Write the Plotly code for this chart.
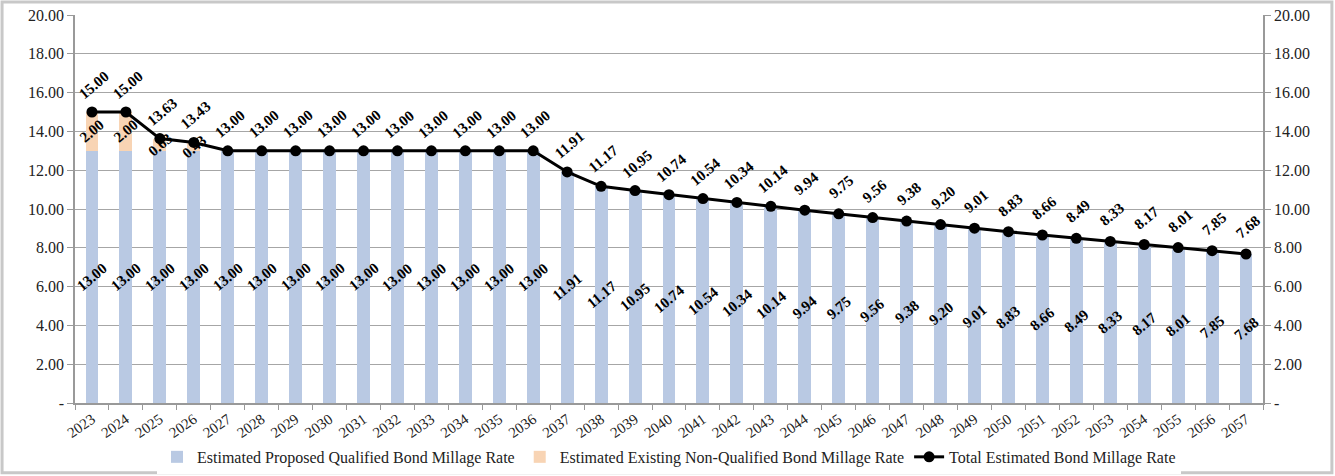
import plotly.graph_objects as go

years = [str(y) for y in range(2023, 2058)]
qualified = [13.00]*14 + [11.91, 11.17, 10.95, 10.74, 10.54, 10.34, 10.14, 9.94, 9.75, 9.56,
                          9.38, 9.20, 9.01, 8.83, 8.66, 8.49, 8.33, 8.17, 8.01, 7.85, 7.68]
non_qualified = [2.00, 2.00, 0.63, 0.43] + [0.0]*31
total = [round(a + b, 2) for a, b in zip(qualified, non_qualified)]

y_ticks = [0, 2, 4, 6, 8, 10, 12, 14, 16, 18, 20]
y_ticktext = ["-" if v == 0 else f"{v:.2f}" for v in y_ticks]

BLUE = "#b9c9e3"
ORANGE = "#f8d4b4"
FONT = "Liberation Serif"

fig = go.Figure()
fig.add_trace(go.Bar(x=years, y=qualified, name="Estimated Proposed Qualified Bond Millage Rate",
                     marker=dict(color=BLUE, line=dict(width=0))))
fig.add_trace(go.Bar(x=years, y=non_qualified, name="Estimated Existing Non-Qualified Bond Millage Rate",
                     marker=dict(color=ORANGE, line=dict(width=0))))
fig.add_trace(go.Scatter(x=years, y=total, name="Total Estimated Bond Millage Rate", mode="lines+markers",
                         line=dict(color="black", width=3), marker=dict(color="black", size=11)))
# dummy trace for right axis
fig.add_trace(go.Scatter(x=years, y=total, yaxis="y2", mode="lines", line=dict(width=0),
                         opacity=0, showlegend=False, hoverinfo="skip"))

ann = []
lab_font = dict(family=FONT, size=15, color="black")
ANG = -40
for i, (q, n, t) in enumerate(zip(qualified, non_qualified, total)):
    ann.append(dict(x=i, y=q/2, text=f"<b>{q:.2f}</b>", showarrow=False, textangle=ANG, font=lab_font))
    if n > 0:
        ann.append(dict(x=i, y=q + n/2, text=f"<b>{n:.2f}</b>", showarrow=False, textangle=ANG, font=lab_font))
    ann.append(dict(x=i, y=t, yshift=27, xshift=2, text=f"<b>{t:.2f}</b>", showarrow=False,
                    textangle=ANG, font=lab_font))

fig.update_layout(
    barmode="stack",
    bargap=0.62,
    width=1335, height=476,
    margin=dict(l=75, r=72, t=15, b=73, autoexpand=False),
    paper_bgcolor="white", plot_bgcolor="white",
    font=dict(family=FONT, size=15, color="#222"),
    annotations=ann,
    xaxis=dict(type="category", range=[-0.5, len(years) - 0.5], autorange=False, automargin=False,
               tickangle=-35, tickson="boundaries", ticks="outside", ticklen=5,
               tickcolor="#999", showline=True, linecolor="#999", linewidth=1.5, showgrid=False,
               tickfont=dict(family=FONT, size=15, color="#222")),
    yaxis=dict(range=[0, 20], tickvals=y_ticks, ticktext=y_ticktext, showgrid=True, gridcolor="#a6a6a6",
               gridwidth=1, showline=True, linecolor="#999", linewidth=1.5, ticks="outside",
               tickcolor="#999", ticklen=6, tickfont=dict(family=FONT, size=16, color="#222"),
               zeroline=False, automargin=False),
    yaxis2=dict(range=[0, 20], tickvals=y_ticks, ticktext=y_ticktext, overlaying="y", side="right",
                showgrid=False, showline=True, linecolor="#999", linewidth=1.5, ticks="outside",
                tickcolor="#999", ticklen=6, tickfont=dict(family=FONT, size=16, color="#222"),
                zeroline=False, automargin=False),
    legend=dict(orientation="h", x=0.5, xanchor="center", y=-0.139, yanchor="middle",
                font=dict(family=FONT, size=16, color="#222"), traceorder="normal"),
    shapes=[dict(type="rect", xref="paper", yref="paper", x0=-0.0614, x1=1.058, y0=-0.180, y1=1.0335,
                 line=dict(color="#c8c8c8", width=3), fillcolor="rgba(0,0,0,0)", layer="below")],
    showlegend=True,
)

fig.write_html("out.html", config={"displayModeBar": False},
               post_script="document.body.style.margin='0';")
